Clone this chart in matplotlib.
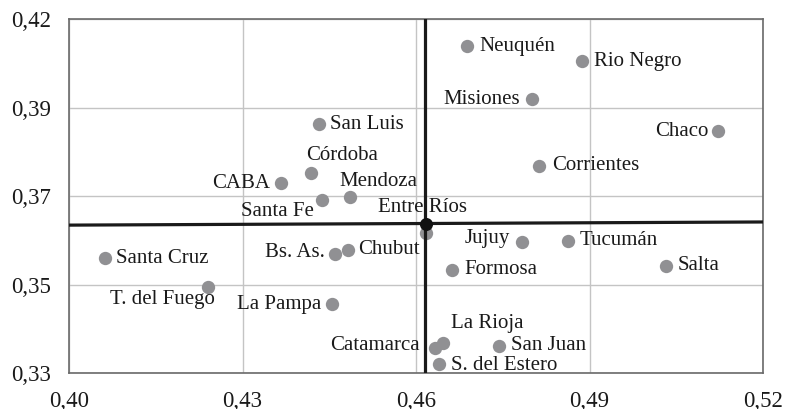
import numpy as np
import matplotlib
matplotlib.use("Agg")
import matplotlib.pyplot as plt

# data
provinces = ["Neuquén", "Rio Negro", "Misiones", "Chaco", "Corrientes",
             "San Luis", "Córdoba", "CABA", "Santa Fe", "Mendoza",
             "Entre Ríos", "Santa Cruz", "T. del Fuego", "Bs. As.", "Chubut",
             "La Pampa", "Jujuy", "Tucumán", "Salta", "Formosa",
             "La Rioja", "Catamarca", "San Juan", "S. del Estero"]
x_vals = np.array([0.4688, 0.4887, 0.4800, 0.5123, 0.4813,
                   0.4433, 0.4418, 0.4366, 0.4438, 0.4485,
                   0.4617, 0.4062, 0.4240, 0.4460, 0.4482,
                   0.4455, 0.4783, 0.4862, 0.5032, 0.4662,
                   0.4647, 0.4632, 0.4744, 0.4640])
y_vals = np.array([0.4131, 0.4093, 0.3996, 0.3915, 0.3827,
                   0.3932, 0.3808, 0.3782, 0.3740, 0.3747,
                   0.3655, 0.3592, 0.3519, 0.3603, 0.3613,
                   0.3475, 0.3634, 0.3636, 0.3573, 0.3562,
                   0.3376, 0.3364, 0.3369, 0.3323])

# reference (mean) lines and their crossing
mean_x = [0.4616, 0.4616]
mean_x_span = [0.33, 0.42]
mean_y = [0.3676, 0.3684]
mean_y_span = [0.40, 0.52]
cross = (0.4617, 0.3678)

x_ticks = [0.40, 0.43, 0.46, 0.49, 0.52]
x_ticklabels = ["0,40", "0,43", "0,46", "0,49", "0,52"]
y_ticks = np.linspace(0.33, 0.42, 5)
y_ticklabels = ["0,33", "0,35", "0,37", "0,39", "0,42"]

# label placement: offset in pixels and horizontal alignment
label_pos = {
    "Neuquén": (12, 0, "left"), "Rio Negro": (12, 0, "left"),
    "Misiones": (-12, 0, "right"), "Chaco": (-10, 0, "right"),
    "Corrientes": (13, 0, "left"), "San Luis": (11, 0, "left"),
    "Córdoba": (-5, 18, "left"), "CABA": (-11, 0, "right"),
    "Santa Fe": (-8, -12, "right"), "Mendoza": (-10, 16, "left"),
    "Entre Ríos": (-3, 26, "center"), "Santa Cruz": (11, 0, "left"),
    "T. del Fuego": (7, -13, "right"), "Bs. As.": (-10, 1, "right"),
    "Chubut": (10, 0, "left"), "La Pampa": (-11, 0, "right"),
    "Jujuy": (-12, 3, "right"), "Tucumán": (12, 0, "left"),
    "Salta": (12, 0, "left"), "Formosa": (12, 0, "left"),
    "La Rioja": (8, 20, "left"), "Catamarca": (-15, 2, "right"),
    "San Juan": (12, 0, "left"), "S. del Estero": (12, -2, "left"),
}

plt.rcParams["font.family"] = ["Liberation Serif", "DejaVu Serif"]

fig = plt.figure(figsize=(7.85, 4.09), dpi=100)
ax = fig.add_axes([0.088, 0.088, 0.884, 0.8655])

ax.scatter(x_vals, y_vals, s=92, color="#909093", zorder=3, linewidths=0)

for name, xv, yv in zip(provinces, x_vals, y_vals):
    dx, dy, ha = label_pos[name]
    ax.annotate(name, (xv, yv), xytext=(dx, dy), textcoords="offset pixels",
                ha=ha, va="center", fontsize=15, color="#1a1a1a", zorder=4)

ax.plot(mean_x, mean_x_span, color="#1a1a1a", lw=2.3, zorder=5)
ax.plot(mean_y_span, mean_y, color="#1a1a1a", lw=2.3, zorder=5)
ax.scatter([cross[0]], [cross[1]], s=70, color="#111111", zorder=6)

ax.set_xlim(0.40, 0.52)
ax.set_ylim(0.33, 0.42)
ax.set_xticks(x_ticks)
ax.set_xticklabels(x_ticklabels)
ax.set_yticks(y_ticks)
ax.set_yticklabels(y_ticklabels)
ax.tick_params(length=0, labelsize=16.5, colors="#1a1a1a")
ax.tick_params(axis="y", pad=13)
ax.tick_params(axis="x", pad=13)

ax.grid(True, color="#c4c4c4", lw=1.0, zorder=0)
ax.set_axisbelow(True)
for sp in ax.spines.values():
    sp.set_color("#6a6a6a")
    sp.set_linewidth(1.2)

fig.savefig("out.png", dpi=100)
